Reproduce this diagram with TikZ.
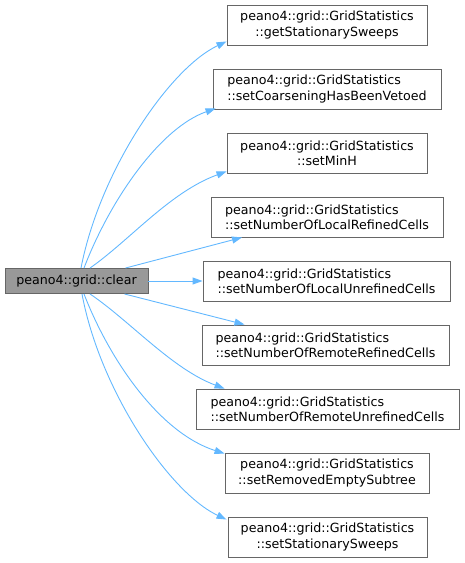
\documentclass[tikz,border=0pt]{standalone}
\usepackage{fontspec}
\setmainfont{DejaVu Sans}
\usetikzlibrary{arrows.meta}
\definecolor{edgeblue}{HTML}{63B8FF}
\definecolor{bordergray}{HTML}{666666}
\definecolor{mainfill}{HTML}{999999}
\begin{document}
\begin{tikzpicture}[x=1pt,y=-1pt,
  box/.style={draw=bordergray, fill=white, minimum height=40pt, inner sep=0pt,
    font=\fontsize{12.65}{15.2}\selectfont, line width=0.9pt},
  mainbox/.style={draw=bordergray, fill=mainfill, minimum height=25pt, minimum width=143pt,
    inner sep=0pt, font=\fontsize{12.65}{15.2}\selectfont, line width=0.9pt},
  conn/.style={draw=edgeblue, line width=0.9pt,
    -{Triangle[length=10pt,width=7pt]}}
]
\useasboundingbox (0,0) rectangle (464,563);

\node[mainbox] (main) at (76.5,281) {peano4::grid::clear};

\node[box, minimum width=200pt, align=center] (b1) at (327,25)
  {peano4::grid::GridStatistics\\::getStationarySweeps};
\node[box, minimum width=228pt, align=left] (b2) at (327,89)
  {peano4::grid::GridStatistics\\::setCoarseningHasBeenVetoed};
\node[box, minimum width=200pt, align=center] (b3) at (327,153)
  {peano4::grid::GridStatistics\\::setMinH};
\node[box, minimum width=232pt, align=left] (b4) at (327,217)
  {peano4::grid::GridStatistics\\::setNumberOfLocalRefinedCells};
\node[box, minimum width=247pt, align=left] (b5) at (326.5,281)
  {peano4::grid::GridStatistics\\::setNumberOfLocalUnrefinedCells};
\node[box, minimum width=247pt, align=left] (b6) at (325.5,345)
  {peano4::grid::GridStatistics\\::setNumberOfRemoteRefinedCells};
\node[box, minimum width=263pt, align=left] (b7) at (327.5,409)
  {peano4::grid::GridStatistics\\::setNumberOfRemoteUnrefinedCells};
\node[box, minimum width=204pt, align=center] (b8) at (327,473)
  {peano4::grid::GridStatistics\\::setRemovedEmptySubtree};
\node[box, minimum width=199pt, align=center] (b9) at (327.5,537)
  {peano4::grid::GridStatistics\\::setStationarySweeps};

% top edges
\draw[conn] ([xshift=4.5pt]main.north) .. controls (100,170) and (170,68) .. ([yshift=4pt]b1.south west);
\draw[conn] ([xshift=7.5pt]main.north) .. controls (110,200) and (160,128) .. ([xshift=3pt,yshift=1pt]b2.south west);
\draw[conn] ([xshift=13.5pt]main.north) .. controls (130,240) and (170,192) .. ([yshift=2pt]b3.south west);
\draw[conn] ([xshift=-23pt]main.north east) -- ([xshift=-85pt]b4.south);
\draw[conn] (main.east) -- (b5.west);
% bottom edges
\draw[conn] ([xshift=-24pt]main.south east) -- ([xshift=-81pt]b6.north);
\draw[conn] ([xshift=13.5pt]main.south) .. controls (130,321) and (172,369) .. ([xshift=29pt]b7.north west);
\draw[conn] ([xshift=7.5pt]main.south) .. controls (110,361) and (160,433) .. ([yshift=-1pt]b8.north west);
\draw[conn] ([xshift=5.5pt]main.south) .. controls (100,391) and (170,493) .. ([xshift=-1pt,yshift=-3pt]b9.north west);
\end{tikzpicture}
\end{document}
